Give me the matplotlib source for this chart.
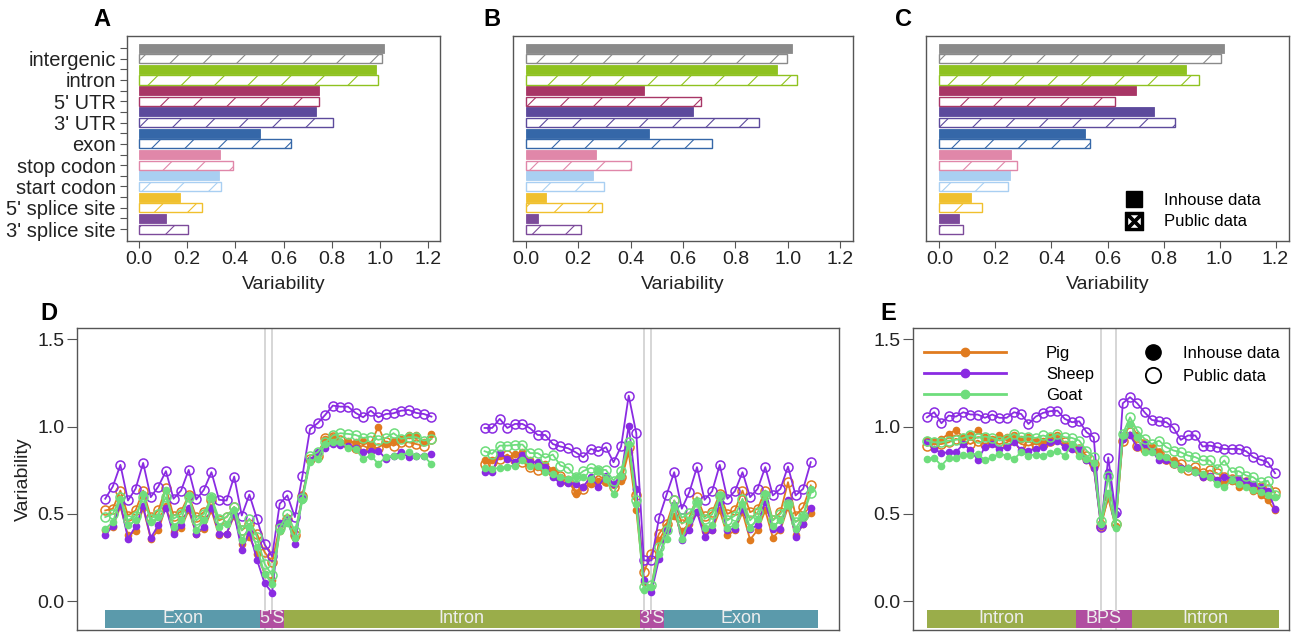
import numpy as np
import matplotlib
matplotlib.use('Agg')
import matplotlib.pyplot as plt
from matplotlib.lines import Line2D
from matplotlib.patches import Rectangle

plt.rcParams['font.family'] = ['Liberation Sans', 'DejaVu Sans']
plt.rcParams['hatch.linewidth'] = 0.8

# ---------------- panels A-C : variability per genomic feature ----------------
features = ['intergenic', 'intron', "5' UTR", "3' UTR", 'exon', 'stop codon',
            'start codon', "5' splice site", "3' splice site"]
feature_colors = ['#8a8a8a', '#8fc220', '#a83666', '#5c4a9c', '#3567a8',
                  '#e087a9', '#a9cff2', '#f0c02e', '#7c4a9a']

a_inhouse = [1.015, 0.982, 0.746, 0.736, 0.504, 0.339, 0.333, 0.170, 0.112]
a_public = [1.008, 0.991, 0.746, 0.806, 0.632, 0.389, 0.341, 0.261, 0.205]
b_inhouse = [1.016, 0.959, 0.451, 0.639, 0.471, 0.270, 0.256, 0.078, 0.048]
b_public = [0.997, 1.035, 0.668, 0.890, 0.709, 0.400, 0.298, 0.291, 0.212]
c_inhouse = [1.016, 0.879, 0.703, 0.766, 0.521, 0.257, 0.252, 0.111, 0.071]
c_public = [1.005, 0.927, 0.627, 0.841, 0.536, 0.277, 0.245, 0.151, 0.083]

# ---------------- panel D : splice site profile ----------------
species = ['Pig', 'Sheep', 'Goat']
species_colors = ['#e07b1f', '#8a2be2', '#6edd7c']

# left half: exon (21) + 5' splice site (2) + intron (21)
d_left_public = {
    'Pig': [0.52, 0.53, 0.634, 0.491, 0.52, 0.634, 0.482, 0.52, 0.65, 0.49, 0.514, 0.606, 0.482, 0.51, 0.577,
            0.463, 0.482, 0.54, 0.406, 0.444, 0.387,
            0.282, 0.225,
            0.43, 0.47, 0.38, 0.60, 0.815, 0.834, 0.935, 0.939, 0.924, 0.90, 0.88, 0.89, 0.872, 0.88, 0.91,
            0.89, 0.91, 0.91, 0.90, 0.89, 0.93],
    'Sheep': [0.587, 0.657, 0.781, 0.577, 0.644, 0.792, 0.596, 0.657, 0.745, 0.587, 0.634, 0.752, 0.583, 0.638,
              0.739, 0.581, 0.577, 0.714, 0.491, 0.611, 0.472,
              0.326, 0.257,
              0.558, 0.606, 0.482, 0.72, 0.987, 1.019, 1.067, 1.12, 1.114, 1.114, 1.078, 1.053, 1.091, 1.053,
              1.072, 1.076, 1.091, 1.095, 1.078, 1.072, 1.057],
    'Goat': [0.482, 0.50, 0.596, 0.463, 0.491, 0.596, 0.472, 0.50, 0.596, 0.472, 0.50, 0.596, 0.463, 0.50, 0.596,
             0.472, 0.482, 0.54, 0.406, 0.472, 0.368,
             0.215, 0.149,
             0.42, 0.50, 0.40, 0.59, 0.834, 0.853, 0.91, 0.949, 0.962, 0.958, 0.952, 0.935, 0.943, 0.924, 0.935,
             0.962, 0.93, 0.939, 0.939, 0.92, 0.93],
}
d_left_inhouse = {
    'Pig': [0.406, 0.425, 0.543, 0.377, 0.40, 0.535, 0.358, 0.406, 0.543, 0.396, 0.421, 0.52, 0.387, 0.415, 0.52,
            0.377, 0.387, 0.49, 0.33, 0.368, 0.272,
            0.158, 0.12,
            0.40, 0.46, 0.36, 0.61, 0.806, 0.844, 0.93, 0.94, 0.91, 0.916, 0.91, 0.92, 0.90, 1.0, 0.90, 0.92,
            0.93, 0.949, 0.949, 0.91, 0.958],
    'Sheep': [0.381, 0.429, 0.558, 0.358, 0.429, 0.543, 0.364, 0.434, 0.535, 0.383, 0.434, 0.535, 0.387, 0.425,
              0.535, 0.387, 0.387, 0.50, 0.291, 0.396, 0.238,
              0.105, 0.048,
              0.45, 0.47, 0.33, 0.60, 0.806, 0.853, 0.88, 0.90, 0.897, 0.886, 0.88, 0.853, 0.859, 0.863, 0.815,
              0.834, 0.853, 0.825, 0.834, 0.834, 0.844],
    'Goat': [0.415, 0.453, 0.587, 0.434, 0.463, 0.615, 0.453, 0.482, 0.638, 0.425, 0.463, 0.611, 0.406, 0.463,
             0.596, 0.425, 0.444, 0.52, 0.349, 0.425, 0.31,
             0.158, 0.10,
             0.40, 0.45, 0.36, 0.58, 0.796, 0.815, 0.90, 0.91, 0.91, 0.88, 0.872, 0.815, 0.834, 0.787, 0.825,
             0.834, 0.834, 0.853, 0.834, 0.829, 0.787],
}
# right half: intron (21) + 3' splice site (2) + exon (21)
d_right_public = {
    'Pig': [0.787, 0.796, 0.815, 0.84, 0.806, 0.796, 0.771, 0.749, 0.758, 0.739, 0.72, 0.691, 0.634, 0.644, 0.682,
            0.72, 0.691, 0.653, 0.71, 0.882, 0.606,
            0.168, 0.272,
            0.387, 0.444, 0.577, 0.444, 0.482, 0.596, 0.486, 0.51, 0.615, 0.50, 0.52, 0.634, 0.51, 0.53, 0.634,
            0.463, 0.51, 0.682, 0.491, 0.539, 0.663],
    'Sheep': [0.992, 0.992, 1.044, 0.992, 1.015, 1.015, 0.99, 0.952, 0.952, 0.90, 0.886, 0.876, 0.853, 0.825,
              0.872, 0.859, 0.882, 0.796, 0.886, 1.177, 0.962,
              0.234, 0.234,
              0.478, 0.611, 0.739, 0.53, 0.625, 0.768, 0.581, 0.63, 0.781, 0.587, 0.63, 0.739, 0.596, 0.644,
              0.768, 0.606, 0.644, 0.771, 0.606, 0.644, 0.796],
    'Goat': [0.859, 0.844, 0.891, 0.891, 0.895, 0.897, 0.848, 0.848, 0.821, 0.84, 0.777, 0.764, 0.71, 0.745, 0.764,
             0.752, 0.752, 0.691, 0.745, 0.91, 0.577,
             0.082, 0.091,
             0.31, 0.41, 0.577, 0.478, 0.505, 0.568, 0.472, 0.497, 0.60, 0.463, 0.491, 0.587, 0.463, 0.51, 0.606,
             0.463, 0.50, 0.558, 0.453, 0.491, 0.619],
}
d_right_inhouse = {
    'Pig': [0.806, 0.806, 0.834, 0.821, 0.844, 0.853, 0.806, 0.79, 0.787, 0.749, 0.71, 0.70, 0.615, 0.653, 0.672,
            0.691, 0.682, 0.663, 0.691, 0.853, 0.52,
            0.11, 0.08,
            0.349, 0.429, 0.491, 0.402, 0.444, 0.51, 0.402, 0.406, 0.52, 0.377, 0.406, 0.51, 0.352, 0.41, 0.52,
            0.364, 0.41, 0.539, 0.377, 0.44, 0.505],
    'Sheep': [0.739, 0.739, 0.848, 0.815, 0.80, 0.84, 0.796, 0.796, 0.77, 0.71, 0.676, 0.676, 0.672, 0.657, 0.71,
              0.657, 0.72, 0.672, 0.72, 1.006, 0.644,
              0.12, 0.053,
              0.244, 0.41, 0.549, 0.349, 0.41, 0.51, 0.368, 0.41, 0.568, 0.41, 0.415, 0.53, 0.415, 0.434, 0.568,
              0.415, 0.415, 0.577, 0.368, 0.444, 0.535],
    'Goat': [0.764, 0.758, 0.764, 0.771, 0.777, 0.806, 0.777, 0.777, 0.739, 0.73, 0.71, 0.70, 0.71, 0.71, 0.70,
             0.749, 0.70, 0.615, 0.72, 0.90, 0.558,
             0.063, 0.08,
             0.272, 0.358, 0.539, 0.358, 0.467, 0.568, 0.421, 0.434, 0.611, 0.421, 0.434, 0.558, 0.421, 0.472,
             0.615, 0.429, 0.463, 0.558, 0.415, 0.491, 0.644],
}
d_gap = 6
d_sites = [21, 22, 71, 72]
d_regions = ['Exon', "5'S", 'Intron', "3'S", 'Exon']
d_bounds = [0, 20.4, 23.5, 70.5, 73.6, 94]

# ---------------- panel E : branch point profile ----------------
e_public = {
    'Pig': [0.891, 0.90, 0.90, 0.91, 0.93, 0.916, 0.90, 0.92, 0.90, 0.91, 0.90, 0.91, 0.93, 0.90, 0.891, 0.903,
            0.90, 0.92, 0.935, 0.91, 0.882, 0.872, 0.834, 0.787,
            0.43, 0.60, 0.44,
            0.92, 0.968, 0.891, 0.872, 0.872, 0.848, 0.815, 0.79, 0.787, 0.749, 0.768, 0.733, 0.749, 0.733,
            0.71, 0.70, 0.691, 0.682, 0.657, 0.653, 0.644, 0.625],
    'Sheep': [1.053, 1.082, 1.019, 1.063, 1.057, 1.082, 1.069, 1.069, 1.05, 1.069, 1.05, 1.05, 1.082, 1.072,
              1.015, 1.057, 1.078, 1.088, 1.091, 1.044, 1.025, 1.03, 0.968, 0.939,
              0.425, 0.823, 0.51,
              1.133, 1.168, 1.133, 1.082, 1.038, 1.03, 1.025, 0.992, 0.924, 0.949, 0.949, 0.886, 0.891, 0.882,
              0.872, 0.872, 0.872, 0.859, 0.825, 0.81, 0.796, 0.733],
    'Goat': [0.92, 0.91, 0.91, 0.92, 0.924, 0.935, 0.949, 0.935, 0.943, 0.935, 0.92, 0.93, 0.958, 0.939, 0.943,
             0.935, 0.949, 0.939, 0.958, 0.939, 0.935, 0.92, 0.863, 0.825,
             0.46, 0.72, 0.44,
             0.958, 1.053, 0.977, 0.93, 0.90, 0.92, 0.882, 0.863, 0.853, 0.834, 0.825, 0.806, 0.806, 0.76,
             0.806, 0.74, 0.745, 0.72, 0.71, 0.68, 0.69, 0.61],
}
e_inhouse = {
    'Pig': [0.924, 0.92, 0.93, 0.958, 0.981, 0.939, 0.949, 0.981, 0.939, 0.93, 0.949, 0.939, 0.954, 0.93, 0.939,
            0.92, 0.92, 0.939, 0.949, 0.90, 0.882, 0.853, 0.806, 0.764,
            0.45, 0.59, 0.43,
            0.93, 1.015, 0.949, 0.91, 0.882, 0.853, 0.806, 0.806, 0.758, 0.764, 0.749, 0.71, 0.71, 0.691,
            0.672, 0.691, 0.653, 0.669, 0.634, 0.606, 0.577, 0.52],
    'Sheep': [0.91, 0.872, 0.848, 0.853, 0.853, 0.90, 0.867, 0.81, 0.882, 0.90, 0.872, 0.882, 0.91, 0.867, 0.863,
              0.872, 0.882, 0.91, 0.92, 0.882, 0.872, 0.872, 0.806, 0.764,
              0.43, 0.74, 0.50,
              0.93, 0.949, 0.882, 0.90, 0.863, 0.806, 0.81, 0.783, 0.764, 0.764, 0.739, 0.71, 0.72, 0.695,
              0.714, 0.70, 0.70, 0.688, 0.672, 0.657, 0.634, 0.53],
    'Goat': [0.815, 0.821, 0.777, 0.821, 0.821, 0.84, 0.84, 0.844, 0.806, 0.825, 0.844, 0.834, 0.815, 0.853,
             0.834, 0.84, 0.834, 0.848, 0.859, 0.834, 0.90, 0.834, 0.815, 0.79,
             0.44, 0.62, 0.42,
             0.949, 1.015, 0.939, 0.853, 0.853, 0.829, 0.825, 0.787, 0.758, 0.764, 0.739, 0.726, 0.71, 0.672,
             0.653, 0.695, 0.672, 0.657, 0.638, 0.625, 0.606, 0.596],
}
e_sites = [24, 26]
e_regions = ['Intron', 'BPS', 'Intron']
e_bounds = [0, 20.5, 28.3, 48.6]

region_colors = {'Exon': '#5b9aab', 'Intron': '#9aad4a', "5'S": '#b04ea0', "3'S": '#b04ea0', 'BPS': '#b04ea0'}

frame_col = '#555555'
text_col = '#222222'

fig = plt.figure(figsize=(13, 6.33), dpi=100)


def style_frame(ax):
    for s in ax.spines.values():
        s.set_color(frame_col)
        s.set_linewidth(1.0)
    ax.tick_params(colors=frame_col, labelcolor=text_col, labelsize=14)


def bar_panel(rect, inhouse, public, labels):
    ax = fig.add_axes(rect)
    pos = np.arange(len(features)) * 2
    ax.barh(pos, inhouse, height=0.85, color=feature_colors, edgecolor=feature_colors, linewidth=0.6)
    ax.barh(pos + 1, public, height=0.85, color='white', edgecolor=feature_colors,
            hatch='/', linewidth=1.0)
    ax.set_ylim(18.12, -1.13)
    ax.set_xlim(-0.048, 1.248)
    ticks = np.arange(0, 1.21, 0.2)
    ax.set_xticks(ticks)
    ax.set_xticklabels(['%.1f' % t for t in ticks])
    style_frame(ax)
    ax.tick_params(axis='x', length=5, pad=2)
    if labels:
        ax.set_yticks(np.arange(2 * len(features)))
        ylab = []
        for f in features:
            ylab += ['', f]
        ax.set_yticklabels(ylab)
        ax.tick_params(axis='y', length=5, pad=3, labelsize=14.5)
    else:
        ax.tick_params(axis='y', left=False, labelleft=False)
    ax.set_xlabel('Variability', fontsize=14, color=text_col, labelpad=6)
    return ax


axA = bar_panel([127 / 1300, 392 / 633, 313 / 1300, 205 / 633], a_inhouse, a_public, True)
axB = bar_panel([513 / 1300, 392 / 633, 340 / 1300, 205 / 633], b_inhouse, b_public, False)
axC = bar_panel([926 / 1300, 392 / 633, 363 / 1300, 205 / 633], c_inhouse, c_public, False)

leg_handles = [Line2D([], [], color='black', marker='s', ms=11, ls='none'),
               Line2D([], [], color='black', marker=r'$\boxtimes$', ms=13, ls='none')]
axC.legend(leg_handles, ['Inhouse data', 'Public data'], loc='upper left', bbox_to_anchor=(0.556, 0.235),
           frameon=False, fontsize=12, handlelength=0.8, handletextpad=1.4,
           labelspacing=0.4, borderpad=0, borderaxespad=0)


def profile_panel(rect, x, public, inhouse, sites, regions, bounds):
    ax = fig.add_axes(rect)
    for s in sites:
        ax.axvline(s, color='#cfcfcf', lw=1.2, zorder=0)
    for sp, col in zip(species, species_colors):
        ax.plot(x, public[sp], '-o', color=col, mfc='none', ms=6.5, mew=1.1, lw=1.3)
        ax.plot(x, inhouse[sp], '-o', color=col, ms=4.5, lw=1.3)
    for name, x0, x1 in zip(regions, bounds[:-1], bounds[1:]):
        ax.add_patch(Rectangle((x0, -0.15), x1 - x0, 0.1, facecolor=region_colors[name],
                               edgecolor='none', zorder=1))
        ax.text((x0 + x1) / 2, -0.1, name, ha='center', va='center', color='#eeeeee', fontsize=13, zorder=2)
    pad = 0.04 * (x[-1] - x[0])
    ax.set_xlim(x[0] - pad, x[-1] + pad)
    ax.set_ylim(-0.164, 1.564)
    ax.set_xticks([])
    ax.set_yticks([0, 0.5, 1.0, 1.5])
    ax.set_yticklabels(['0.0', '0.5', '1.0', '1.5'])
    style_frame(ax)
    ax.tick_params(axis='y', length=7, pad=2)
    return ax


# panel D: join the two halves with a gap of missing positions
d_x = np.arange(len(d_left_public['Pig']) + d_gap + len(d_right_public['Pig']))
nan_gap = [np.nan] * d_gap
d_public = {sp: d_left_public[sp] + nan_gap + d_right_public[sp] for sp in species}
d_inhouse = {sp: d_left_inhouse[sp] + nan_gap + d_right_inhouse[sp] for sp in species}
axD = profile_panel([77 / 1300, 3 / 633, 762 / 1300, 302 / 633], d_x, d_public, d_inhouse,
                    d_sites, d_regions, d_bounds)
axD.set_ylabel('Variability', fontsize=14, color=text_col, labelpad=4)

e_x = np.arange(len(e_public['Pig']))
axE = profile_panel([913 / 1300, 3 / 633, 376 / 1300, 302 / 633], e_x, e_public, e_inhouse,
                    e_sites, e_regions, e_bounds)

sp_handles = [Line2D([], [], color=c, marker='o', ms=6, lw=2) for c in species_colors]
leg1 = axE.legend(sp_handles, species, loc='upper left', bbox_to_anchor=(0.03, 0.942), frameon=False,
                  fontsize=12, handlelength=4.9, handletextpad=2.4, labelspacing=0.36,
                  borderpad=0, borderaxespad=0)
axE.add_artist(leg1)
src_handles = [Line2D([], [], color='black', marker='o', ms=11, ls='none'),
               Line2D([], [], color='black', marker='o', ms=11, mfc='none', mew=1.3, ls='none')]
axE.legend(src_handles, ['Inhouse data', 'Public data'], loc='upper left', bbox_to_anchor=(0.617, 0.94),
           frameon=False, fontsize=12, handlelength=1.0, handletextpad=1.3, labelspacing=0.45,
           borderpad=0, borderaxespad=0)

for letter, px, py in [('A', 102, 20), ('B', 492, 20), ('C', 903, 20), ('D', 49, 313), ('E', 888, 313)]:
    fig.text(px / 1300, 1 - py / 633, letter, fontsize=17, fontweight='bold', ha='center', va='center')

fig.savefig('out.png', dpi=100)
